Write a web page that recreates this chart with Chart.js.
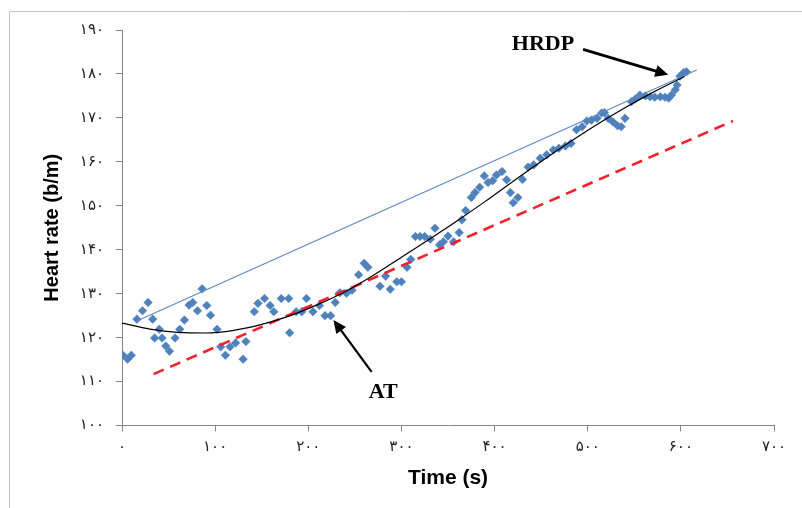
<!DOCTYPE html>
<html><head><meta charset="utf-8">
<script src="https://cdn.jsdelivr.net/npm/chart.js@4.4.0/dist/chart.umd.min.js"></script>
<style>html,body{margin:0;padding:0;background:#fff;overflow:hidden}</style>
</head><body>
<canvas id="c" width="802" height="508"></canvas>
<script>
// Scatter data: time (s) and heart rate (b/m)
const timeS = [1,6,10,16,22,28,33,35,40,43,47,51,57,62,67,72,76,81,86,91,95,102,106,111,116,122,130,133,142,146,153,159,163,171,179,180,187,193,198,205,212,218,224,229,234,241,247,254,260,264,277,283,288,295,300,306,310,315,320,325,331,336,341,345,350,356,362,365,369,375,379,384,389,393,398,402,408,413,417,420,425,430,436,442,449,456,463,469,476,482,488,494,499,504,510,515,518,522,527,532,536,540,547,551,556,562,567,572,578,583,587,590,594,596,599,603,606];
const heartRate = [116.0,115.1,116.0,124.2,126.1,128.0,124.2,119.9,121.9,119.9,118.1,116.9,119.9,121.9,124.0,127.4,128.0,126.1,131.1,127.3,125.1,121.9,117.9,116.0,117.9,118.8,115.1,119.1,125.9,127.8,128.9,127.3,125.9,128.9,128.9,121.1,125.9,125.9,128.9,125.9,127.3,125.0,125.0,128.0,130.2,130.1,130.8,134.3,136.9,136.0,131.7,134.0,131.0,132.7,132.7,136.0,137.8,143.0,143.0,143.0,142.4,144.9,141.1,141.8,143.1,141.8,143.9,146.8,148.9,151.9,153.0,154.2,156.8,155.3,155.7,157.0,157.8,155.9,153.0,150.7,151.9,156.0,158.8,159.3,160.8,161.6,162.7,163.1,163.6,164.2,167.3,168.0,169.3,169.5,169.9,171.1,171.2,169.9,169.1,168.2,168.0,169.9,173.7,174.3,175.2,175.0,174.8,174.7,174.8,174.7,174.5,175.2,176.4,177.5,179.5,180.3,180.5];

// Thin blue straight line (HRDP)
const blueLineT = [14, 617];
const blueLineHR = [123.6, 180.9];
// Red dashed straight line (AT)
const redLineT = [34, 656];
const redLineHR = [111.7, 169.3];
// Black trend curve
const curveT = [0,30,60,90,120,150,180,210,240,270,300,330,360,390,420,450,480,510,540,570,604];
const curveHR = [123.3,121.95,121.2,121.05,121.65,123.0,124.95,127.5,130.5,134.2,138.3,142.4,146.6,151.0,155.6,160.1,164.4,168.5,172.3,175.8,179.4];

// Tick labels
const xTickLabels = ['۰','۱۰۰','۲۰۰','۳۰۰','۴۰۰','۵۰۰','۶۰۰','۷۰۰'];
const yTickLabels = ['۱۰۰','۱۱۰','۱۲۰','۱۳۰','۱۴۰','۱۵۰','۱۶۰','۱۷۰','۱۸۰','۱۹۰'];

// Annotations (data units)
const noteText = ['HRDP', 'AT'];
const noteT = [452, 280.5];
const noteHR = [186.9, 107.7];
const arrowFromT = [495, 268];
const arrowFromHR = [185.6, 112.2];
const arrowToT = [586.5, 227];
const arrowToHR = [179.8, 124.0];

const pts = timeS.map((t, i) => ({x: t, y: heartRate[i]}));
const blueLine = blueLineT.map((t, i) => ({x: t, y: blueLineHR[i]}));
const redLine = redLineT.map((t, i) => ({x: t, y: redLineHR[i]}));
const curve = curveT.map((t, i) => ({x: t, y: curveHR[i]}));

function drawArrow(ctx, x1, y1, x2, y2, lw, headL, headW) {
  const ang = Math.atan2(y2 - y1, x2 - x1);
  const bx = x2 - Math.cos(ang) * headL, by = y2 - Math.sin(ang) * headL;
  ctx.strokeStyle = '#000'; ctx.fillStyle = '#000'; ctx.lineWidth = lw;
  ctx.beginPath(); ctx.moveTo(x1, y1); ctx.lineTo(bx + Math.cos(ang) * 1, by + Math.sin(ang) * 1); ctx.stroke();
  ctx.beginPath();
  ctx.moveTo(x2, y2);
  ctx.lineTo(bx + Math.sin(ang) * headW, by - Math.cos(ang) * headW);
  ctx.lineTo(bx - Math.sin(ang) * headW, by + Math.cos(ang) * headW);
  ctx.closePath(); ctx.fill();
}

const deco = {
  id: 'deco',
  beforeDraw(chart) {
    const {ctx, width, height} = chart;
    ctx.save();
    ctx.fillStyle = '#fff'; ctx.fillRect(0, 0, width, height);
    ctx.strokeStyle = '#c4c4c4'; ctx.lineWidth = 1;
    ctx.beginPath(); ctx.moveTo(9.5, height); ctx.lineTo(9.5, 11.5); ctx.lineTo(width, 11.5); ctx.stroke();
    ctx.restore();
  },
  afterDatasetsDraw(chart) {
    const {ctx} = chart;
    const xs = chart.scales.x, ys = chart.scales.y;
    ctx.save();
    const lws = [2.8, 2.2];
    for (let i = 0; i < noteText.length; i++) {
      drawArrow(ctx, xs.getPixelForValue(arrowFromT[i]), ys.getPixelForValue(arrowFromHR[i]),
        xs.getPixelForValue(arrowToT[i]), ys.getPixelForValue(arrowToHR[i]), lws[i], 13, 6);
      ctx.font = 'bold 22px "Liberation Serif", "Times New Roman", serif';
      ctx.textAlign = 'center'; ctx.textBaseline = 'middle'; ctx.fillStyle = '#000';
      ctx.fillText(noteText[i], xs.getPixelForValue(noteT[i]), ys.getPixelForValue(noteHR[i]) + 1);
    }
    ctx.restore();
  }
};

const tickFont = {family: '"DejaVu Sans", "Noto Sans", sans-serif', size: 15};
const axisColor = '#868686';

new Chart(document.getElementById('c'), {
  type: 'scatter',
  data: {
    datasets: [
      {data: pts, pointStyle: 'rectRot', pointRadius: 4.3, pointHoverRadius: 4.3,
       backgroundColor: '#4f81bd', borderColor: '#4f81bd', borderWidth: 0.5, order: 10},
      {data: blueLine, showLine: true, pointRadius: 0, borderColor: '#5f89c3', borderWidth: 1.2, order: 3},
      {data: redLine, showLine: true, pointRadius: 0, borderColor: '#f0222c', borderWidth: 2.6, borderDash: [11, 7], order: 2},
      {data: curve, showLine: true, pointRadius: 0, borderColor: '#000', borderWidth: 1.2, cubicInterpolationMode: 'monotone', order: 1}
    ]
  },
  options: {
    responsive: false,
    animation: false,
    devicePixelRatio: 1,
    layout: {padding: {left: 0, top: 30, right: 28, bottom: 0}},
    plugins: {legend: {display: false}, tooltip: {enabled: false}},
    scales: {
      x: {
        type: 'linear', min: 0, max: 700,
        afterFit(s) { s.height = 82.5; },
        ticks: {stepSize: 100, autoSkip: false, maxRotation: 0, padding: 7, color: '#222', font: tickFont,
                callback: (v, i) => xTickLabels[i]},
        grid: {drawOnChartArea: false, drawTicks: true, tickLength: 6, color: axisColor},
        border: {display: true, color: axisColor, width: 1},
        title: {display: true, text: 'Time (s)', color: '#000',
                font: {family: '"Liberation Sans", Arial, sans-serif', size: 21, weight: 'bold'},
                padding: {top: 0, bottom: 17}}
      },
      y: {
        type: 'linear', min: 100, max: 190,
        afterFit(s) { s.width = 122; },
        ticks: {stepSize: 10, autoSkip: false, padding: 12, color: '#222', font: tickFont,
                callback: (v, i) => yTickLabels[i]},
        grid: {drawOnChartArea: false, drawTicks: true, tickLength: 6, color: axisColor},
        border: {display: true, color: axisColor, width: 1},
        title: {display: true, text: 'Heart rate (b/m)', color: '#000',
                font: {family: '"Liberation Sans", Arial, sans-serif', size: 20, weight: 'bold'},
                padding: {top: 40, bottom: 0}}
      }
    }
  },
  plugins: [deco]
});
</script>
</body></html>
